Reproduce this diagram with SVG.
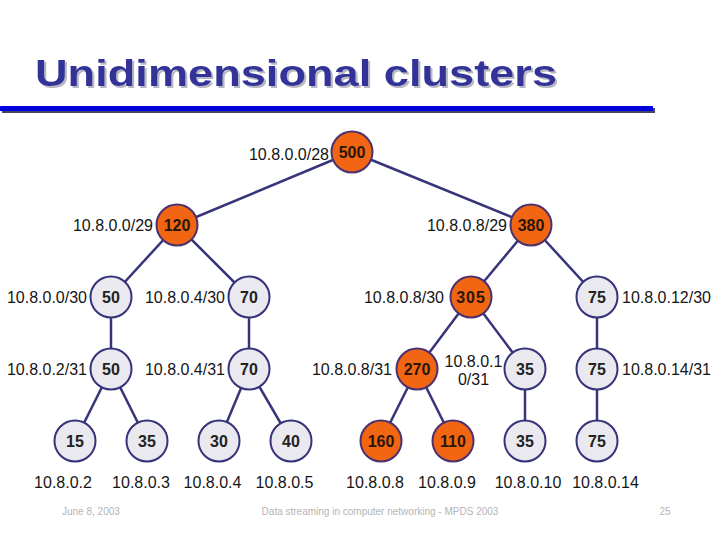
<svg xmlns="http://www.w3.org/2000/svg" width="720" height="540" viewBox="0 0 720 540">
<defs>
<filter id="shadow" x="-5%" y="-20%" width="110%" height="140%">
<feDropShadow dx="2" dy="2" stdDeviation="0.6" flood-color="#b8b8c4" flood-opacity="1"/>
</filter>
</defs>
<style>
.title{font-family:"Liberation Sans",Arial,sans-serif;font-weight:bold;font-size:37px}
.lbl{font-family:"Liberation Sans",Arial,sans-serif;font-size:16px;fill:#151515}
.num{font-family:"Liberation Sans",Arial,sans-serif;font-weight:bold;font-size:16px;text-anchor:middle;fill:#222}
.foot{font-family:"Liberation Sans",Arial,sans-serif;font-size:10px;fill:#b4b4b4}
.hot circle{fill:#f26512;stroke:#4a3270;stroke-width:2}
.cold circle{fill:#e9e9ef;stroke:#35337a;stroke-width:2}
.hot text.num{fill:#2a1608}
#edges line{stroke:#36347a;stroke-width:2.5}
</style>
<rect width="720" height="540" fill="#ffffff"/>
<text class="title" x="35" y="86" fill="#333399" textLength="522" lengthAdjust="spacingAndGlyphs" filter="url(#shadow)">Unidimensional clusters</text>
<rect x="2" y="108" width="653" height="5" fill="#444466"/>
<rect x="0" y="106" width="653" height="5" fill="#0000dd"/>
<g id="edges">
<line x1="352" y1="152" x2="177" y2="225"/>
<line x1="352" y1="152" x2="531" y2="225"/>
<line x1="177" y1="225" x2="111" y2="297"/>
<line x1="177" y1="225" x2="249" y2="297"/>
<line x1="111" y1="297" x2="111" y2="369"/>
<line x1="249" y1="297" x2="249" y2="369"/>
<line x1="111" y1="369" x2="75" y2="441"/>
<line x1="111" y1="369" x2="147" y2="441"/>
<line x1="249" y1="369" x2="219" y2="441"/>
<line x1="249" y1="369" x2="291" y2="441"/>
<line x1="531" y1="225" x2="471" y2="297"/>
<line x1="531" y1="225" x2="597" y2="297"/>
<line x1="471" y1="297" x2="417" y2="369"/>
<line x1="471" y1="297" x2="525" y2="369"/>
<line x1="597" y1="297" x2="597" y2="369"/>
<line x1="417" y1="369" x2="381" y2="441"/>
<line x1="417" y1="369" x2="453" y2="441"/>
<line x1="525" y1="369" x2="525" y2="441"/>
<line x1="597" y1="369" x2="597" y2="441"/>
</g>
<g id="n500" class="hot"><circle cx="352" cy="152" r="20.5"/><text class="num" x="352" y="158">500</text><text class="lbl" x="329" y="160" text-anchor="end">10.8.0.0/28</text></g>
<g id="n120" class="hot"><circle cx="177" cy="225" r="20.5"/><text class="num" x="177" y="231">120</text><text class="lbl" x="153" y="231" text-anchor="end">10.8.0.0/29</text></g>
<g id="n380" class="hot"><circle cx="531" cy="225" r="20.5"/><text class="num" x="531" y="231">380</text><text class="lbl" x="507" y="231" text-anchor="end">10.8.0.8/29</text></g>
<g id="n50a" class="cold"><circle cx="111" cy="297" r="20.5"/><text class="num" x="111" y="303">50</text><text class="lbl" x="87" y="303" text-anchor="end">10.8.0.0/30</text></g>
<g id="n70a" class="cold"><circle cx="249" cy="297" r="20.5"/><text class="num" x="249" y="303">70</text><text class="lbl" x="225" y="303" text-anchor="end">10.8.0.4/30</text></g>
<g id="n305" class="hot"><circle cx="471" cy="297" r="20.5"/><text class="num" x="471" y="303" letter-spacing="1">305</text><text class="lbl" x="444" y="303" text-anchor="end">10.8.0.8/30</text></g>
<g id="n75a" class="cold"><circle cx="597" cy="297" r="20.5"/><text class="num" x="597" y="303">75</text><text class="lbl" x="622" y="303">10.8.0.12/30</text></g>
<g id="n50b" class="cold"><circle cx="111" cy="369" r="20.5"/><text class="num" x="111" y="375">50</text><text class="lbl" x="87" y="375" text-anchor="end">10.8.0.2/31</text></g>
<g id="n70b" class="cold"><circle cx="249" cy="369" r="20.5"/><text class="num" x="249" y="375">70</text><text class="lbl" x="225" y="375" text-anchor="end">10.8.0.4/31</text></g>
<g id="n270" class="hot"><circle cx="417" cy="369" r="20.5"/><text class="num" x="417" y="375">270</text><text class="lbl" x="392" y="375" text-anchor="end">10.8.0.8/31</text></g>
<g id="n35a" class="cold"><circle cx="525" cy="369" r="20.5"/><text class="num" x="525" y="375">35</text><text class="lbl" x="473.5" y="367" text-anchor="middle">10.8.0.1</text><text class="lbl" x="473.5" y="385" text-anchor="middle">0/31</text></g>
<g id="n75b" class="cold"><circle cx="597" cy="369" r="20.5"/><text class="num" x="597" y="375">75</text><text class="lbl" x="622" y="375">10.8.0.14/31</text></g>
<g id="n15" class="cold"><circle cx="75" cy="441" r="20.5"/><text class="num" x="75" y="447">15</text><text class="lbl" x="63" y="488" text-anchor="middle">10.8.0.2</text></g>
<g id="n35b" class="cold"><circle cx="147" cy="441" r="20.5"/><text class="num" x="147" y="447">35</text><text class="lbl" x="141" y="488" text-anchor="middle">10.8.0.3</text></g>
<g id="n30" class="cold"><circle cx="219" cy="441" r="20.5"/><text class="num" x="219" y="447">30</text><text class="lbl" x="212.5" y="488" text-anchor="middle">10.8.0.4</text></g>
<g id="n40" class="cold"><circle cx="291" cy="441" r="20.5"/><text class="num" x="291" y="447">40</text><text class="lbl" x="284.5" y="488" text-anchor="middle">10.8.0.5</text></g>
<g id="n160" class="hot"><circle cx="381" cy="441" r="20.5"/><text class="num" x="381" y="447">160</text><text class="lbl" x="375" y="488" text-anchor="middle">10.8.0.8</text></g>
<g id="n110" class="hot"><circle cx="453" cy="441" r="20.5"/><text class="num" x="453" y="447">110</text><text class="lbl" x="447" y="488" text-anchor="middle">10.8.0.9</text></g>
<g id="n35c" class="cold"><circle cx="525" cy="441" r="20.5"/><text class="num" x="525" y="447">35</text><text class="lbl" x="528" y="488" text-anchor="middle">10.8.0.10</text></g>
<g id="n75c" class="cold"><circle cx="597" cy="441" r="20.5"/><text class="num" x="597" y="447">75</text><text class="lbl" x="605.5" y="488" text-anchor="middle">10.8.0.14</text></g>
<text class="foot" x="62" y="515">June 8, 2003</text>
<text class="foot" x="380" y="515" text-anchor="middle">Data streaming in computer networking - MPDS 2003</text>
<text class="foot" x="665" y="515" text-anchor="middle">25</text>
</svg>
